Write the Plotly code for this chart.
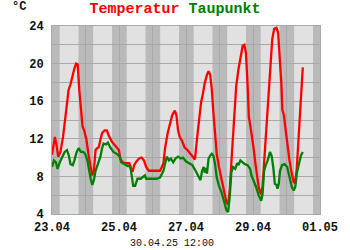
import pandas as pd
import plotly.graph_objects as go

START = pd.Timestamp("2025-04-23 00:00")
END = pd.Timestamp("2025-05-01 00:00")

# Temperature: hours after 23.04 00:00 and values (°C)
temp_hours = [0, 0.93, 2.09, 3.26, 4.42, 6.05, 7.91, 10.24, 11.87, 13.27, 14.43, 16.06, 17.22, 18.39,
              19.55, 20.71, 21.88, 23.04, 24.67, 26.07, 27.70, 28.86, 30.02, 31.19, 32.35, 33.52,
              34.68, 35.85, 37.71, 39.34, 40.50, 42.83, 45.16,
              47.94, 48.87, 50.73, 53.06, 55.38, 56.55, 57.71, 58.87, 60.50, 62.37, 64.23, 65.86,
              67.49, 69.35, 71.68, 74.01, 77.50, 79.83, 80.99, 82.86, 84.49, 86.12, 87.98, 89.15,
              90.31, 91.48, 93.11,
              94.97, 97.05, 99.38, 101.24, 102.40, 104.03, 105.66, 106.83, 107.99, 109.39, 111.01,
              112.18, 113.34, 114.51, 115.67, 116.83, 118.00, 119.63, 121.49, 123.35, 124.98,
              126.15, 127.31, 128.47, 129.64, 130.80, 131.97, 133.60, 134.99, 136.62, 137.79,
              138.95, 140.11, 141.03,
              142.19, 143.36, 144.52, 145.69, 146.85, 148.01, 149.18, 149.88, 150.81, 151.97,
              153.14, 154.30, 155.47, 156.63, 157.79, 159.19, 160.82, 161.98, 163.15, 164.31,
              165.01, 166.17, 167.10, 168.50, 170.13, 171.76, 173.16, 174.09, 175.26, 176.42,
              177.59, 178.75, 179.68]
temp_values = [10.3, 11.0, 12.2, 11.3, 10.1, 10.6, 12.2, 15.1, 17.2, 17.8, 18.6, 19.5, 20.0, 19.9,
               17.2, 14.7, 13.3, 12.9, 11.9, 10.4, 9.0, 8.1, 8.6, 10.8, 11.0, 11.1,
               11.9, 12.6, 12.9, 12.9, 12.4, 11.7, 11.3,
               10.8, 9.9, 9.5, 9.4, 9.4, 8.8, 8.5, 9.2, 9.6, 9.9, 10.0, 9.7,
               9.0, 8.6, 8.6, 8.6, 8.6, 9.4, 11.0, 12.6, 13.6, 14.5, 15.0, 14.5,
               12.9, 12.2, 11.8,
               11.1, 10.8, 10.4, 10.1, 9.8, 12.2, 14.6, 15.9, 16.7, 17.9, 18.8,
               19.2, 18.8, 17.2, 14.7, 12.2, 10.4, 9.0, 7.6, 6.3, 5.25,
               5.0, 6.5, 9.4, 12.6, 15.1, 17.6, 19.4, 20.8, 21.9, 22.0,
               21.1, 17.8, 14.3,
               13.3, 12.3, 10.9, 9.4, 8.0, 6.9, 6.3, 6.1, 6.9, 9.4,
               12.3, 15.4, 17.9, 20.4, 22.6, 23.7, 23.8, 23.3, 20.8, 17.9,
               15.1, 14.5, 13.3, 11.5, 9.7, 8.3, 7.4, 7.3, 8.6, 11.5,
               14.7, 17.6, 19.6]

# Dew point: hours after 23.04 00:00 and values (°C)
dew_hours = [0, 1.40, 2.79, 3.96, 5.59, 7.45, 9.08, 10.71, 12.10, 13.27, 14.90, 16.06, 17.69, 19.08,
             20.71, 22.34, 23.74, 25.37, 26.53, 27.70, 28.86, 30.02, 31.19, 33.05, 34.68, 35.85,
             37.01, 38.64, 40.03, 41.66, 43.99, 46.32, 48.65,
             49.57, 51.90, 54.22, 56.09, 57.25, 58.18, 59.58, 61.21, 63.53, 65.16, 66.56, 67.49,
             69.35, 71.68, 75.17, 77.50, 79.83, 82.16, 83.79, 85.19, 86.82, 88.45, 90.31, 92.18,
             93.81, 95.44,
             95.89, 98.21, 100.54, 102.87, 105.20, 106.36, 107.52, 108.69, 109.39, 110.32, 111.01,
             112.18, 113.34, 114.51, 115.67, 116.83, 118.00, 119.63, 121.49, 123.35, 124.98,
             126.15, 127.31, 128.47, 129.64, 131.27, 132.66, 133.60, 134.99, 136.62, 138.25,
             140.11, 141.98,
             142.89, 144.52, 146.15, 148.01, 149.88, 150.81, 151.97, 153.14, 154.53, 156.16,
             157.33, 158.49, 159.65, 160.82, 161.52, 162.45, 163.38, 164.78, 166.64, 168.50,
             170.13, 171.76, 173.16, 174.32, 175.49, 177.12, 178.29, 179.68]
dew_values = [9.0, 9.7, 9.5, 8.8, 9.5, 10.1, 10.6, 10.8, 10.2, 9.3, 9.2, 9.7, 10.6, 11.0,
              10.6, 10.6, 10.4, 9.7, 8.6, 7.75, 7.1, 7.6, 8.6, 9.5, 10.1, 11.0,
              11.5, 11.4, 11.6, 11.1, 10.6, 10.4, 10.1,
              9.5, 9.3, 9.1, 9.1, 8.1, 7.0, 7.0, 7.75, 7.75, 7.9, 8.1, 7.75,
              7.75, 7.8, 7.75, 7.9, 8.6, 10.1, 9.7, 9.9, 9.5, 9.9, 10.1, 9.9,
              10.0, 9.7,
              9.6, 9.4, 9.2, 8.6, 7.9, 7.6, 8.6, 9.0, 8.4, 8.9, 8.3,
              9.9, 10.2, 10.4, 10.2, 9.3, 7.9, 7.0, 6.3, 5.4, 4.4,
              4.2, 5.8, 8.4, 9.0, 8.8, 9.4, 9.2, 9.7, 9.5, 9.3,
              9.2, 8.8,
              8.1, 7.5, 6.9, 6.0, 5.4, 6.1, 8.6, 9.2, 9.7, 10.6,
              10.2, 9.0, 7.2, 7.1, 6.7, 7.2, 8.6, 9.2, 9.3, 9.0,
              7.9, 6.9, 6.5, 6.9, 8.4, 9.7, 10.2, 10.6]

x_tick_dates = ["2025-04-23", "2025-04-25", "2025-04-27", "2025-04-29", "2025-05-01"]
x_tick_labels = ["23.04", "25.04", "27.04", "29.04", "01.05"]
y_tick_values = [4, 8, 12, 16, 20, 24]
y_tick_labels = ["4", "8", "12", "16", "20", "24"]
night_dates = ["2025-04-22", "2025-04-23", "2025-04-24", "2025-04-25", "2025-04-26",
               "2025-04-27", "2025-04-28", "2025-04-29", "2025-04-30"]
title_parts = ["Temperatur", "Taupunkt"]
unit_label = "°C"
timestamp_label = "30.04.25 12:00"

FONT = "Liberation Mono"
RED = "#ff0000"
GREEN = "#008000"

temp_x = [START + pd.Timedelta(hours=h) for h in temp_hours]
dew_x = [START + pd.Timedelta(hours=h) for h in dew_hours]

fig = go.Figure()
fig.add_trace(go.Scatter(x=temp_x, y=temp_values, mode="lines",
                         line=dict(color=RED, width=2.3), name=title_parts[0]))
fig.add_trace(go.Scatter(x=dew_x, y=dew_values, mode="lines",
                         line=dict(color=GREEN, width=2.3), name=title_parts[1]))

shapes = []
for d in night_dates:
    d0 = pd.Timestamp(d)
    x0 = max(d0 + pd.Timedelta(hours=19), START)
    x1 = min(d0 + pd.Timedelta(hours=29.5), END)
    if x1 > x0:
        shapes.append(dict(type="rect", xref="x", yref="y", x0=x0, x1=x1, y0=4, y1=24,
                           fillcolor="#bababa", line=dict(width=0), layer="below"))

grid_col = "#a9a9a9"
fig.update_layout(
    width=350, height=250,
    margin=dict(l=52, r=23, t=26, b=36),
    paper_bgcolor="white", plot_bgcolor="#e1e1e1",
    showlegend=False,
    shapes=shapes,
    title=dict(
        text=f"<span style='color:{RED}'>{title_parts[0]}</span> "
             f"<span style='color:{GREEN}'>{title_parts[1]}</span>",
        x=0.5, xanchor="center", xref="container",
        y=1 - 8 / 250, yanchor="middle", yref="container",
        font=dict(family=FONT, size=15, weight="bold"),
    ),
    xaxis=dict(
        type="date", range=[START, END],
        tickmode="array", tickvals=x_tick_dates, ticktext=x_tick_labels,
        tickfont=dict(family=FONT, size=12, color="#111111", weight="bold"),
        showgrid=True, gridcolor=grid_col, gridwidth=1,
        minor=dict(tick0="2025-04-23", dtick=86400000, showgrid=True, gridcolor=grid_col, gridwidth=1),
        showline=True, mirror=True, linecolor=grid_col, linewidth=1,
        ticks="", ticklabelstandoff=2, zeroline=False, fixedrange=True,
    ),
    yaxis=dict(
        range=[4, 24],
        tickmode="array", tickvals=y_tick_values, ticktext=y_tick_labels,
        tickfont=dict(family=FONT, size=12, color="#111111", weight="bold"),
        showgrid=True, gridcolor=grid_col, gridwidth=1,
        minor=dict(tick0=4, dtick=2, showgrid=True, gridcolor=grid_col, gridwidth=1),
        showline=True, mirror=True, linecolor=grid_col, linewidth=1,
        ticks="", ticklabelstandoff=5, zeroline=False, fixedrange=True,
    ),
    annotations=[
        dict(text=unit_label, xref="paper", yref="paper",
             x=(18 - 52) / 275, y=(214 - 7) / 188, xanchor="center", yanchor="middle",
             showarrow=False, font=dict(family=FONT, size=12, color="#111111", weight="bold")),
        dict(text=timestamp_label, xref="paper", yref="paper",
             x=(175 - 52) / 275, y=(214 - 243) / 188, xanchor="center", yanchor="middle",
             showarrow=False, font=dict(family=FONT, size=10, color="#111111")),
    ],
)

fig.write_html("out.html")
